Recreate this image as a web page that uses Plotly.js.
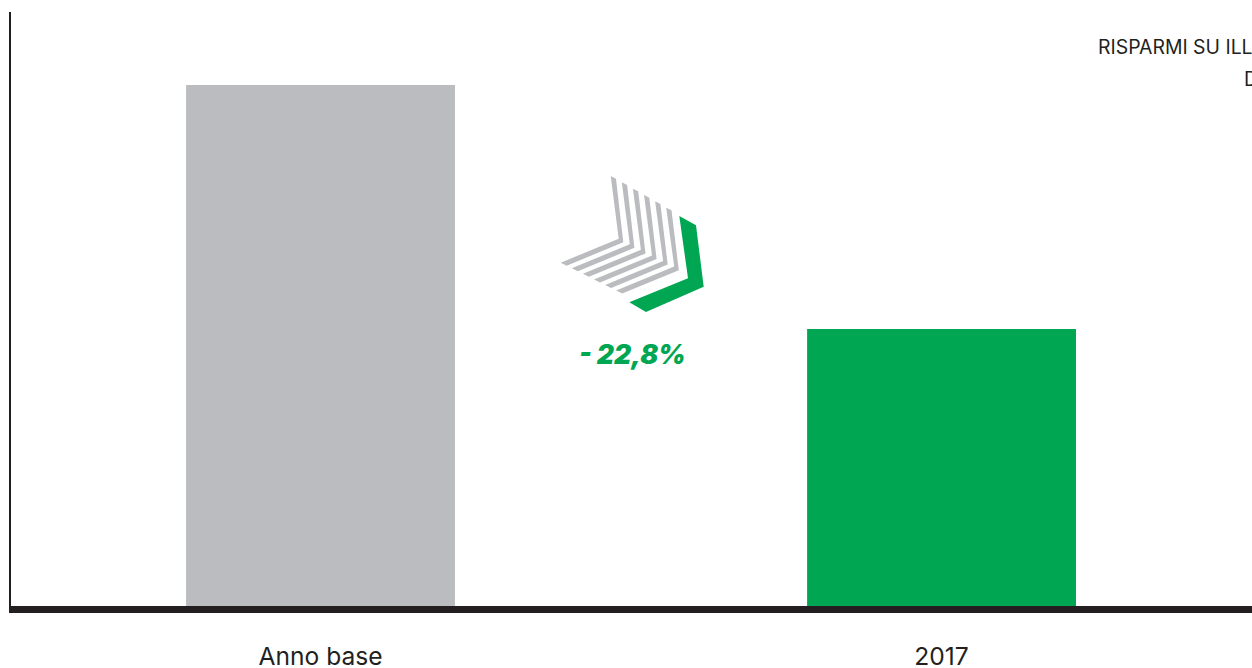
<!DOCTYPE html>
<html>
<head>
<meta charset="utf-8">
<script src="https://cdn.plot.ly/plotly-3.0.1.min.js"></script>
<style>html,body{margin:0;padding:0;background:#fff;overflow:hidden}</style>
</head>
<body>
<div id="chart" style="width:1252px;height:668px"></div>
<script>
// Lighting consumption index: base year = 100, 2017 is 22.8% lower
const categories = ["Anno base", "2017"];
const consumption = [100, 77.2];
const barColors = ["#BBBCBF", "#00A651"];
const changeLabel = "- 22,8%";
const headingLines = ["RISPARMI SU ILL", "D"];

const W = 1252, H = 668;
const margin = {l: 11, r: 0, t: 12, b: 62};

// Pixel position on the page to paper coordinates
const px = x => (x - margin.l) / (W - margin.l - margin.r);
const py = y => 1 - (y - margin.t) / (H - margin.t - margin.b);
const toPath = pts => "M" + pts.map(p => px(p[0]).toFixed(5) + "," + py(p[1]).toFixed(5)).join("L") + "Z";

// Decorative descending chevron: six grey stripes and one green
const grey = "#BBBCBF", green = "#00A651";
const shapes = [];
for (let i = 0; i < 6; i++) {
  const cx = 33.3 * i / 3, cy = 16.7 * i / 3, ty = 19 * i / 3;
  shapes.push({
    type: "path", xref: "paper", yref: "paper", layer: "above",
    fillcolor: grey, line: {width: 0},
    path: toPath([
      [610.7 + cx, 176 + ty],
      [616 + cx, 178.7 + ty],
      [623.3 + cx, 242.3 + cy],
      [566.7 + cx, 265.7 + cy],
      [560.7 + cx, 262.7 + cy],
      [618.7 + cx, 238.7 + cy]
    ])
  });
}
shapes.push({
  type: "path", xref: "paper", yref: "paper", layer: "above",
  fillcolor: green, line: {width: 0},
  path: toPath([[679.3, 216], [696, 225.3], [703.7, 286.7], [646, 312], [629.3, 302.3], [688, 278.3]])
});

const annotations = [
  {text: changeLabel, x: px(632), y: py(354), xref: "paper", yref: "paper", showarrow: false,
   xanchor: "center", yanchor: "middle",
   font: {family: "Inter, sans-serif", size: 26.5, weight: 900, style: "italic", color: green}},
  {text: headingLines[0], x: px(1096), y: py(47), xref: "paper", yref: "paper", showarrow: false,
   xanchor: "left", yanchor: "middle", font: {family: "Inter, sans-serif", size: 19.4, color: "#231F20"}},
  {text: headingLines[1], x: px(1242), y: py(79), xref: "paper", yref: "paper", showarrow: false,
   xanchor: "left", yanchor: "middle", font: {family: "Inter, sans-serif", size: 19.4, color: "#231F20"}}
];

Plotly.newPlot("chart", [{
  type: "bar",
  x: categories,
  y: consumption,
  width: 0.433,
  marker: {color: barColors, line: {width: 0}},
  hoverinfo: "x+y"
}], {
  width: W, height: H, margin: margin,
  paper_bgcolor: "#fff", plot_bgcolor: "#fff",
  showlegend: false,
  font: {family: "Inter, sans-serif", color: "#231F20"},
  xaxis: {
    type: "category", range: [-0.4984, 1.4999], fixedrange: true,
    showgrid: false, zeroline: false, ticks: "",
    showline: true, linecolor: "#231F20", linewidth: 7,
    tickfont: {family: "Inter, sans-serif", size: 24.6, color: "#231F20"},
    ticklabelstandoff: 22
  },
  yaxis: {
    range: [51.32, 106.82], fixedrange: true,
    showgrid: false, zeroline: false, ticks: "", showticklabels: false,
    showline: true, linecolor: "#231F20", linewidth: 2
  },
  shapes: shapes,
  annotations: annotations
}, {displayModeBar: false, staticPlot: true});
</script>
</body>
</html>
